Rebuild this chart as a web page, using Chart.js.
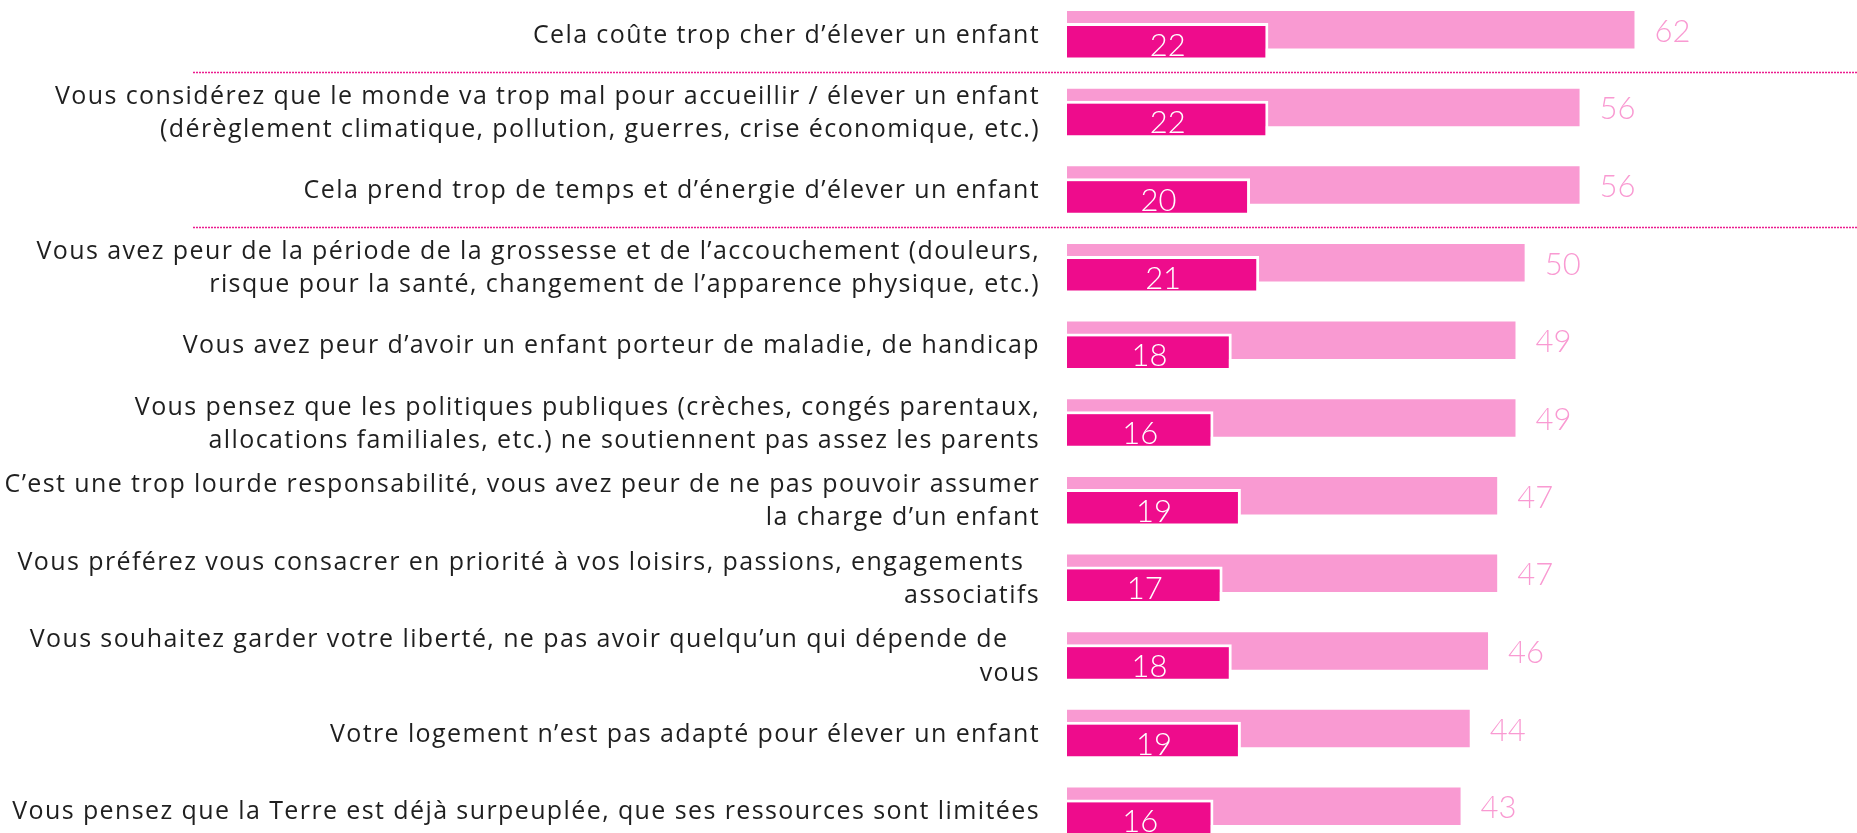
<!DOCTYPE html>
<html>
<head>
<meta charset="utf-8">
<script src="https://cdn.jsdelivr.net/npm/chart.js@4/dist/chart.umd.min.js"></script>
<style>
  html, body { margin: 0; padding: 0; background: #ffffff; overflow: hidden; }
  body { width: 1857px; height: 833px; position: relative; }
  #wrap { position: absolute; left: 0; top: -3px; width: 1857px; height: 854px; }
</style>
</head>
<body>
<div id="wrap"><canvas id="c"></canvas></div>
<script>
const categories = [
  "Cela coûte trop cher d’élever un enfant",
  ["Vous considérez que le monde va trop mal pour accueillir / élever un enfant", "(dérèglement climatique, pollution, guerres, crise économique, etc.)"],
  "Cela prend trop de temps et d’énergie d’élever un enfant",
  ["Vous avez peur de la période de la grossesse et de l’accouchement (douleurs,", "risque pour la santé, changement de l’apparence physique, etc.)"],
  "Vous avez peur d’avoir un enfant porteur de maladie, de handicap",
  ["Vous pensez que les politiques publiques (crèches, congés parentaux,", "allocations familiales, etc.) ne soutiennent pas assez les parents"],
  ["C’est une trop lourde responsabilité, vous avez peur de ne pas pouvoir assumer", "la charge d’un enfant"],
  ["Vous préférez vous consacrer en priorité à vos loisirs, passions, engagements  ", "associatifs"],
  ["Vous souhaitez garder votre liberté, ne pas avoir quelqu’un qui dépende de    ", "vous"],
  "Votre logement n’est pas adapté pour élever un enfant",
  "Vous pensez que la Terre est déjà surpeuplée, que ses ressources sont limitées"
];
const totalValues = [62, 56, 56, 50, 49, 49, 47, 47, 46, 44, 43];
const subValues   = [22, 22, 20, 21, 18, 16, 19, 17, 18, 19, 16];
const separatorsAfter = [0, 2];

const LIGHT = '#F99AD2';
const DARK = '#EE0C8C';
const LABEL_FONT = '"Open Sans", "DejaVu Sans", sans-serif';
const VALUE_FONT = 'Lato, "Open Sans", sans-serif';

const spacing = {
  id: 'spacing',
  beforeDraw(chart) { chart.ctx.letterSpacing = '1.4px'; },
  afterDraw(chart) { chart.ctx.letterSpacing = '0px'; }
};

const valueLabels = {
  id: 'valueLabels',
  afterDatasetsDraw(chart) {
    const ctx = chart.ctx;
    ctx.save();
    ctx.letterSpacing = '0px';
    ctx.font = '300 31px ' + VALUE_FONT;
    ctx.textBaseline = 'middle';
    const m0 = chart.getDatasetMeta(0);
    ctx.fillStyle = LIGHT;
    ctx.textAlign = 'left';
    m0.data.forEach((bar, i) => {
      ctx.fillText(String(totalValues[i]), bar.x + 20, bar.y + 2);
    });
    const m1 = chart.getDatasetMeta(1);
    ctx.fillStyle = '#ffffff';
    ctx.textAlign = 'center';
    m1.data.forEach((bar, i) => {
      ctx.fillText(String(subValues[i]), (bar.x + bar.base) / 2, bar.y + 4);
    });
    ctx.restore();
  }
};

const separators = {
  id: 'separators',
  afterDraw(chart) {
    const ctx = chart.ctx;
    const ys = chart.scales.y;
    ctx.save();
    ctx.strokeStyle = '#EC1C8F';
    ctx.lineWidth = 1.5;
    ctx.setLineDash([2, 1]);
    separatorsAfter.forEach(i => {
      const y = Math.round((ys.getPixelForValue(i) + ys.getPixelForValue(i + 1)) / 2) - 2.5;
      ctx.beginPath();
      ctx.moveTo(193, y);
      ctx.lineTo(chart.width, y);
      ctx.stroke();
    });
    ctx.restore();
  }
};

// Both datasets share one category slot; the light bar sits slightly above
// the dark bar, which is drawn on top of it.
const SLOT_CP = -0.309;
const SLOT_BP = -3.125;

new Chart(document.getElementById('c'), {
  type: 'bar',
  data: {
    labels: categories,
    datasets: [
      {
        data: totalValues,
        backgroundColor: LIGHT,
        borderWidth: 0,
        order: 1,
        categoryPercentage: SLOT_CP,
        barPercentage: SLOT_BP
      },
      {
        data: subValues,
        backgroundColor: DARK,
        borderColor: '#ffffff',
        borderWidth: 3,
        borderSkipped: 'start',
        order: 0,
        categoryPercentage: SLOT_CP,
        barPercentage: SLOT_BP
      }
    ]
  },
  options: {
    indexAxis: 'y',
    responsive: true,
    maintainAspectRatio: false,
    devicePixelRatio: 1,
    animation: false,
    layout: { padding: { top: 0, bottom: 0, left: 0, right: 12 } },
    plugins: { legend: { display: false }, tooltip: { enabled: false } },
    scales: {
      x: {
        display: false,
        min: 0,
        max: 85
      },
      y: {
        offset: true,
        grid: { display: false, drawTicks: false },
        border: { display: false },
        afterFit(scale) {
          scale.width = 1067;
          scale.paddingTop = 0;
          scale.paddingBottom = 0;
        },
        ticks: {
          padding: 27,
          color: '#1f1f1f',
          font: { family: LABEL_FONT, size: 25, lineHeight: 1.33 },
          autoSkip: false
        }
      }
    }
  },
  plugins: [spacing, valueLabels, separators]
});
</script>
</body>
</html>
